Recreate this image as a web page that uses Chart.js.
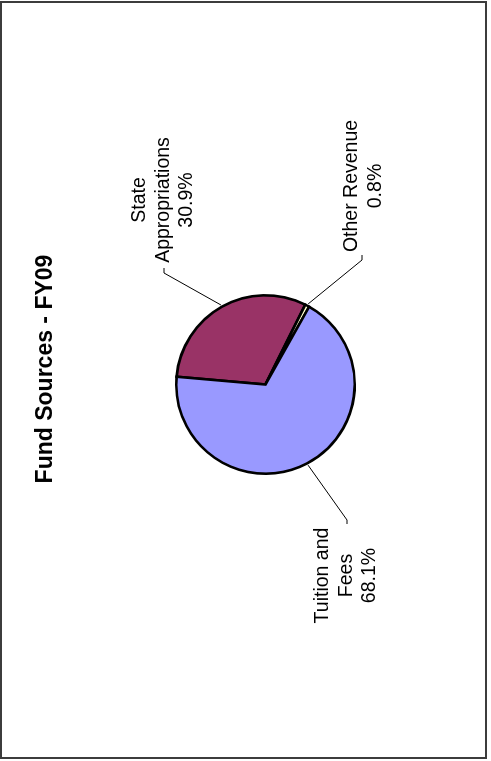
<!DOCTYPE html>
<html>
<head>
<meta charset="utf-8">
<script src="https://cdn.jsdelivr.net/npm/chart.js@4/dist/chart.umd.min.js"></script>
<style>
  html, body { margin: 0; padding: 0; background: #fff; width: 491px; height: 761px; overflow: hidden; }
  /* the page is printed sideways: the chart is laid out landscape and turned a quarter turn */
  #turn { position: absolute; left: 0; top: 0; width: 761px; height: 491px;
          transform-origin: 0 0; transform: translate(0, 761px) rotate(-90deg); }
  #frame { position: absolute; left: 0; top: 1px; width: 487px; height: 758px;
           box-sizing: border-box; border: 2px solid #3c3c3c; }
</style>
</head>
<body>
<div id="turn"><canvas id="c" width="761" height="491"></canvas></div>
<div id="frame"></div>
<script>
const chartTitle = 'Fund Sources - FY09';
const categories = ['State Appropriations', 'Other Revenue', 'Tuition and Fees'];
const categoryLines = [['State', 'Appropriations'], ['Other Revenue'], ['Tuition and', 'Fees']];
const shares = [30.9, 0.8, 68.1];
const sliceColors = ['#993366', '#FFFFCC', '#9999FF'];

// callout layout, relative to the pie centre: leader elbow, tick direction, first text baseline
const calloutPlacement = [
  { elbow: [111.5, -101.5], tick: 5,  text: [184.5, -120.5] },
  { elbow: [124.5, 96.5],   tick: 5,  text: [198.5, 91.5] },
  { elbow: [-135.5, 81.5],  tick: -4, text: [-191, 62.5] }
];
const lineStep = 23.5;

const calloutPlugin = {
  id: 'callouts',
  afterDatasetsDraw(chart) {
    const ctx = chart.ctx;
    const arcs = chart.getDatasetMeta(0).data;
    ctx.save();
    arcs.forEach((arc, i) => {
      const { x, y, startAngle, endAngle, outerRadius } = arc;
      const mid = (startAngle + endAngle) / 2;
      const sx = x + Math.cos(mid) * (outerRadius + 2);
      const sy = y + Math.sin(mid) * (outerRadius + 2);
      const p = calloutPlacement[i];
      const ex = x + p.elbow[0], ey = y + p.elbow[1];
      ctx.strokeStyle = '#000';
      ctx.lineWidth = 1;
      ctx.beginPath();
      ctx.moveTo(sx, sy);
      ctx.lineTo(ex, ey);
      ctx.lineTo(ex + p.tick, ey);
      ctx.stroke();

      ctx.fillStyle = '#000';
      ctx.font = '19.5px "Liberation Sans", Arial, sans-serif';
      ctx.textAlign = 'center';
      ctx.textBaseline = 'alphabetic';
      const lines = [...categoryLines[i], shares[i].toFixed(1) + '%'];
      lines.forEach((t, k) => ctx.fillText(t, x + p.text[0], y + p.text[1] + k * lineStep));
    });

    const cx = arcs[0].x;
    ctx.fillStyle = '#000';
    ctx.font = 'bold 23px "Liberation Sans", Arial, sans-serif';
    ctx.textAlign = 'center';
    ctx.textBaseline = 'alphabetic';
    ctx.fillText(chartTitle, cx + 15.5, 52);
    ctx.restore();
  }
};

new Chart(document.getElementById('c'), {
  type: 'pie',
  data: {
    labels: categories,
    datasets: [{
      data: shares,
      backgroundColor: sliceColors,
      borderColor: '#000',
      borderWidth: 2.6,
      borderJoinStyle: 'miter'
    }]
  },
  options: {
    responsive: false,
    animation: false,
    events: [],
    rotation: 5,
    radius: 89.2,
    layout: { padding: { left: 0, right: 8, top: 40, bottom: 0 } },
    plugins: {
      legend: { display: false },
      title: { display: false },
      tooltip: { enabled: false }
    }
  },
  plugins: [calloutPlugin]
});
</script>
</body>
</html>
